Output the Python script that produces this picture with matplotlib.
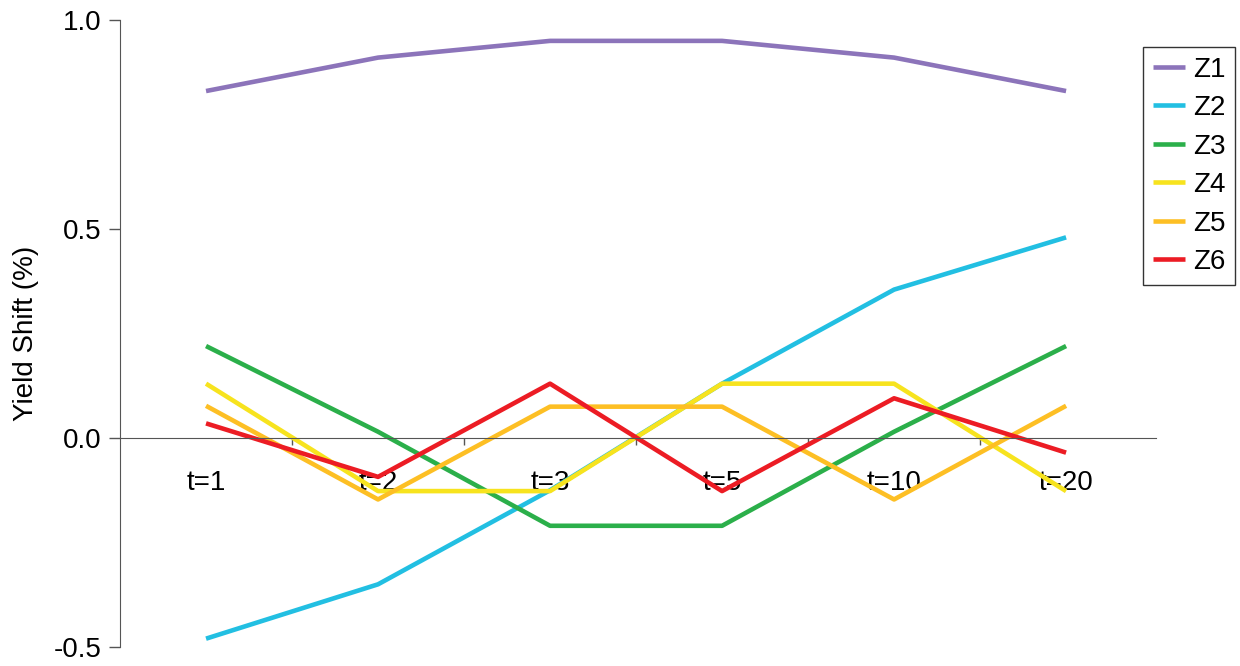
import matplotlib.pyplot as plt
from matplotlib.ticker import FixedLocator, NullFormatter

plt.rcParams['font.family'] = ['Liberation Sans', 'DejaVu Sans']

# chart data
categories = ["t=1", "t=2", "t=3", "t=5", "t=10", "t=20"]
z1 = [0.83, 0.91, 0.95, 0.95, 0.91, 0.83]
z2 = [-0.48, -0.35, -0.125, 0.13, 0.355, 0.48]
z3 = [0.22, 0.015, -0.21, -0.21, 0.015, 0.22]
z4 = [0.13, -0.127, -0.127, 0.13, 0.13, -0.127]
z5 = [0.077, -0.147, 0.075, 0.075, -0.147, 0.077]
z6 = [0.035, -0.093, 0.13, -0.127, 0.095, -0.035]

series_names = ["Z1", "Z2", "Z3", "Z4", "Z5", "Z6"]
series = [z1, z2, z3, z4, z5, z6]
colors = ["#8C74BA", "#22BFE2", "#2BAF4A", "#F7E31E", "#FDBF24", "#EC1C24"]

fig = plt.figure(figsize=(12.4, 6.66), dpi=100)
ax = fig.add_axes([0.0968, 0.0285, 0.8323, 0.9415])

x = list(range(len(categories)))
for name, vals, c in zip(series_names, series, colors):
    ax.plot(x, vals, color=c, linewidth=3.3, label=name, solid_capstyle='butt')

ax.set_xlim(-0.5, 5.5)
ax.set_ylim(-0.5, 1.0)

# axes look
for s in ['top', 'right']:
    ax.spines[s].set_visible(False)
ax.spines['bottom'].set_position(('data', 0))
ax.spines['bottom'].set_color('#555555')
ax.spines['left'].set_color('#555555')
ax.spines['bottom'].set_bounds(-0.5, 5.52)

ax.set_yticks([-0.5, 0.0, 0.5, 1.0])
ax.set_yticklabels(["-0.5", "0.0", "0.5", "1.0"])
ax.tick_params(axis='y', direction='out', length=8, width=1, color='#555555',
               labelsize=20, pad=5)

ax.set_xticks(x)
ax.set_xticklabels(categories)
ax.tick_params(axis='x', which='major', length=0, labelsize=20, pad=23)
ax.xaxis.set_minor_locator(FixedLocator([0.5, 1.5, 2.5, 3.5, 4.5]))
ax.xaxis.set_minor_formatter(NullFormatter())
ax.tick_params(axis='x', which='minor', direction='out', length=5, width=1,
               color='#555555')

ax.set_ylabel("Yield Shift (%)", fontsize=20, labelpad=11)

leg = fig.legend(*ax.get_legend_handles_labels(), loc='upper left',
                 bbox_to_anchor=(1143 / 1240, 1 - 47 / 666), fontsize=20,
                 frameon=True, fancybox=False, edgecolor='black',
                 handlelength=1.15, handletextpad=0.3, labelspacing=0.45,
                 borderpad=0.35, borderaxespad=0)
leg.get_frame().set_linewidth(1)

fig.savefig("out.png", dpi=100)
